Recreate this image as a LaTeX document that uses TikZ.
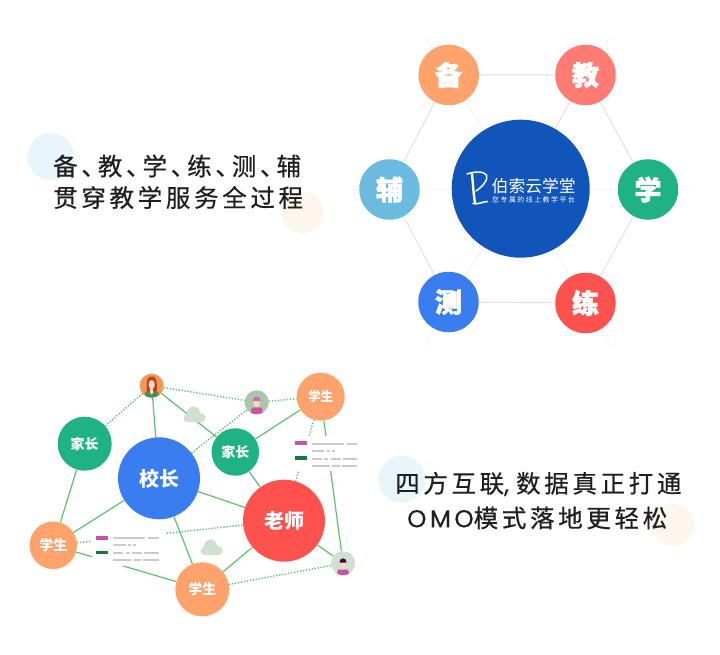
\documentclass[tikz,border=0pt]{standalone}
\usepackage{fontspec}
\setmainfont{Liberation Sans}
\newfontfamily\cjk{Noto Sans CJK SC}
\newfontfamily\cjkheavy{Noto Sans CJK SC}[BoldFeatures={FakeBold=2}]
\newfontfamily\headA{Noto Sans CJK SC}[LetterSpace=15,FakeBold=0.5]
\newfontfamily\headLatin{Poppins}[LetterSpace=14,FakeBold=0.2]
\definecolor{dBlue}{HTML}{1155BB}
\definecolor{cOrange}{HTML}{FFA26B}
\definecolor{cSalmon}{HTML}{FF7B73}
\definecolor{cGreen}{HTML}{1FB283}
\definecolor{cRed}{HTML}{FF524F}
\definecolor{cBlue}{HTML}{3A7DF0}
\definecolor{cSky}{HTML}{6BBBE0}
\definecolor{hexLine}{HTML}{E2E2E2}
\definecolor{faintLine}{HTML}{F3F3F3}
\definecolor{netLine}{HTML}{5DC26D}
\definecolor{cloudC}{HTML}{CFE0CE}
\definecolor{legGrey}{HTML}{CBCBCB}
\definecolor{legPink}{HTML}{CC4FA8}
\definecolor{legGreen}{HTML}{127A3C}
\definecolor{skin}{HTML}{F8D8C4}
\definecolor{discBlue}{HTML}{E8F5FB}
\definecolor{discTan}{HTML}{FDF6EC}
\definecolor{avOrange}{HTML}{F09A55}
\definecolor{avGreen}{HTML}{A9C6AB}
\tikzset{
  hub/.style={circle,minimum size=138pt,inner sep=0pt,fill=dBlue},
  hexdot/.style={circle,minimum size=60.5pt,inner sep=0pt,text=white,font=\cjkheavy\bfseries\fontsize{27}{27}\selectfont},
  bignet/.style={circle,minimum size=82pt,inner sep=0pt,text=white,font=\cjk\bfseries\fontsize{20}{20}\selectfont},
  netdot/.style={circle,inner sep=0pt,text=white,font=\cjk\bfseries\fontsize{14}{14}\selectfont},
  avatar/.style={circle,minimum size=24pt,inner sep=0pt},
  hexlink/.style={draw=hexLine,line width=1pt},
  faintlink/.style={draw=faintLine,line width=0.8pt},
  solidlink/.style={draw=netLine,line width=1.2pt},
  dotlink/.style={draw=netLine,line width=1.4pt,dash pattern=on 1.3pt off 1.7pt},
  deco/.style={circle,inner sep=0pt},
  legbar/.style={line width=3.8pt},
  leggrey/.style={draw=legGrey,line width=2pt},
  heading/.style={anchor=west,inner sep=0pt,text=black!88,font=\fontsize{24.5}{25}\selectfont},
}
\newcommand{\cloudshape}[2]{%
  \begin{scope}[shift={(#1,#2)}]
    \fill[cloudC] (-0.5,-1) circle (6.5pt) (-6.5,4) circle (4pt) (7,3.5) circle (4.5pt);
    \fill[cloudC,rounded corners=2.5pt] (-9,2) rectangle (10,8);
  \end{scope}}
\newcommand{\legendblock}[2]{%
  \begin{scope}[shift={(#1,#2)}]
    \fill[white] (92,530) rectangle (165,565.5);
    \draw[legbar,legPink] (96,537.6) -- (108,537.6);
    \draw[leggrey] (113,538) -- (145,538) (148,538) -- (158.5,538);
    \draw[leggrey] (113,545) -- (125.5,545) (128,545) -- (131,545) (133,545) -- (136,545);
    \draw[legbar,legGreen] (96,552.5) -- (108,552.5);
    \draw[leggrey] (113,553) -- (123,553) (125.5,553) -- (129.5,553) (132,553) -- (142,553) (144,553) -- (158.5,553);
    \draw[leggrey] (113,560) -- (131,560) (133.5,560) -- (141,560) (143,560) -- (158.5,560);
  \end{scope}}
\begin{document}
\begin{tikzpicture}[x=1pt,y=-1pt]
\useasboundingbox (0,0) rectangle (720,655);
\fill[white] (0,0) rectangle (720,655);
% decorative discs
\node[deco,minimum size=47pt,fill=discBlue] (d1) at (50.7,156.7) {};
\node[deco,minimum size=42pt,fill=discTan] (d2) at (302.7,212.7) {};
\node[deco,minimum size=47pt,fill=discBlue] (d3) at (401.7,479.3) {};
\node[deco,minimum size=42pt,fill=discTan] (d4) at (673,525) {};
% headings
\node[heading] (h1) at (53,166) {\headA 备、\kern-8pt 教、\kern-8pt 学、\kern-8pt 练、\kern-8pt 测、\kern-8pt 辅};
\node[heading] (h2) at (53,197.5) {\headA 贯穿教学服务全过程};
\node[heading] (h3) at (395,484) {\headA 四方互联{\headLatin ,}\kern7pt 数据真正打通};
\node[heading] (h4) at (407,518) {{\headLatin OMO}\headA 模式落地更轻松};
% upper hexagon
\node[hub] (hub) at (520.7,188.7) {};
\node[hexdot,fill=cOrange] (bei) at (448.7,75) {备};
\node[hexdot,fill=cSalmon] (jiao) at (585.5,75) {教};
\node[hexdot,fill=cGreen] (xue) at (648,189.5) {学};
\node[hexdot,fill=cRed] (lian) at (585.5,303) {练};
\node[hexdot,fill=cBlue] (ce) at (448.5,302) {测};
\node[hexdot,fill=cSky] (fu) at (389.5,189.5) {辅};
\coordinate (e1) at (352,189.5);
\coordinate (e2) at (692,189.5);
\coordinate (e3) at (610,38);
\coordinate (e4) at (424,347);
\coordinate (e5) at (610,346);
\coordinate (e6) at (424,36);
\draw[hexlink] (bei)--(jiao) (jiao)--(xue) (xue)--(lian) (lian)--(ce) (ce)--(fu) (fu)--(bei) (jiao)--(hub);
\draw[faintlink,draw=hexLine!60] (ce)--(hub);
\draw[faintlink] (bei)--(hub) (xue)--(hub) (lian)--(hub) (fu)--(hub)
  (fu)--(e1) (xue)--(e2) (jiao)--(e3) (ce)--(e4) (lian)--(e5) (bei)--(e6);
% logo
\node[anchor=west,inner sep=0pt,text=white,font=\cjk\fontsize{16.8}{17}\selectfont] (logoA) at (491.5,186) {伯索云学堂};
\node[anchor=west,inner sep=0pt,text=white,font=\cjk\fontsize{6.9}{7}\addfontfeature{LetterSpace=22}] (logoB) at (492,200) {您专属的线上教学平台};
\draw[white,line width=1.5pt,line cap=round] (467,174) .. controls (474,171.5) and (484,171) .. (486.5,175) .. controls (488.5,180) and (482,187) .. (476,191);
\draw[white,line width=2.4pt,line cap=round] (472,174) .. controls (473,184) and (473.5,194) .. (475,203);
\draw[white,line width=1.6pt,line cap=round] (473,203.5) .. controls (477,205) and (483,201.5) .. (487.5,201.5);
% network nodes
\node[bignet,fill=cBlue] (prin) at (159,478.3) {校长};
\node[bignet,fill=cRed] (teach) at (284,520.7) {老师};
\node[netdot,minimum size=54pt,fill=cGreen] (parL) at (84.7,443.7) {家长};
\node[netdot,minimum size=47.5pt,fill=cGreen] (parR) at (235.3,452) {家长};
\node[netdot,minimum size=48pt,fill=cOrange] (stuT) at (320.7,396.7) {\fontsize{12.7}{13}\selectfont 学生};
\node[netdot,minimum size=47.5pt,fill=cOrange] (stuL) at (53.3,545.3) {学生};
\node[netdot,minimum size=54pt,fill=cOrange] (stuB) at (202.3,589.3) {学生};
\node[avatar,fill=avOrange] (av1) at (151.7,385.7) {};
\node[avatar,fill=avGreen] (av2) at (256.7,402.3) {};
\node[avatar,fill=cloudC] (av3) at (343,563.3) {};
% connectors
\draw[solidlink] (parL)--(stuL) (av1)--(prin) (av1)--(parR) (prin)--(stuL) (prin)--(teach) (prin)--(stuB)
  (parR)--(stuT) (parR)--(teach) (stuL)--(stuB) (teach)--(stuB) (teach)--(av3) (stuT)--(av3);
\draw[dotlink] (av1)--(parL) (av1)--(av2) (av2)--(stuT) (av2)--(prin) (stuL)--(teach) (stuT)--(teach) (stuB)--(av3);
% clouds
\cloudshape{194}{414}
\cloudshape{211}{547}
% legends
\legendblock{0}{0}
\legendblock{198.5}{-94.3}
% avatars
\begin{scope}
  \clip (av1) circle (12pt);
  \fill[black!35!red!45!brown] (146.8,393) .. controls (146,378) and (148,376.5) .. (151.7,376.5) .. controls (155.5,376.5) and (157.5,378) .. (156.6,393) -- cycle;
  \fill[black!35!green!35!gray] (143.5,398) -- (145.5,392) -- (158,392) -- (160,398) -- cycle;
  \fill[skin] (151.7,384.5) ellipse (3.1pt and 4.4pt);
  \fill[skin] (150,388) rectangle (153.4,391.5);
  \fill[white] (149.7,391.5) -- (153.7,391.5) -- (151.7,394.5) -- cycle;
\end{scope}
\begin{scope}
  \clip (av2) circle (12pt);
  \fill[legPink] (250,415) -- (252,407.5) -- (261.5,407.5) -- (263.5,415) -- cycle;
  \fill[skin] (256.7,402.5) ellipse (3.6pt and 4.6pt);
  \fill[legPink!85!white] (252.8,401) .. controls (252.5,395) and (261,395) .. (260.6,401) -- cycle;
\end{scope}
\begin{scope}
  \clip (av3) circle (12pt);
  \fill[legPink] (336.5,576) -- (338,569.5) -- (348,569.5) -- (349.5,576) -- cycle;
  \fill[skin] (343,563.5) ellipse (3.4pt and 4.2pt);
  \fill[black!40!violet] (339.5,562.5) .. controls (339,557) and (347,557) .. (346.5,562.5) -- cycle;
\end{scope}
\end{tikzpicture}
\end{document}
